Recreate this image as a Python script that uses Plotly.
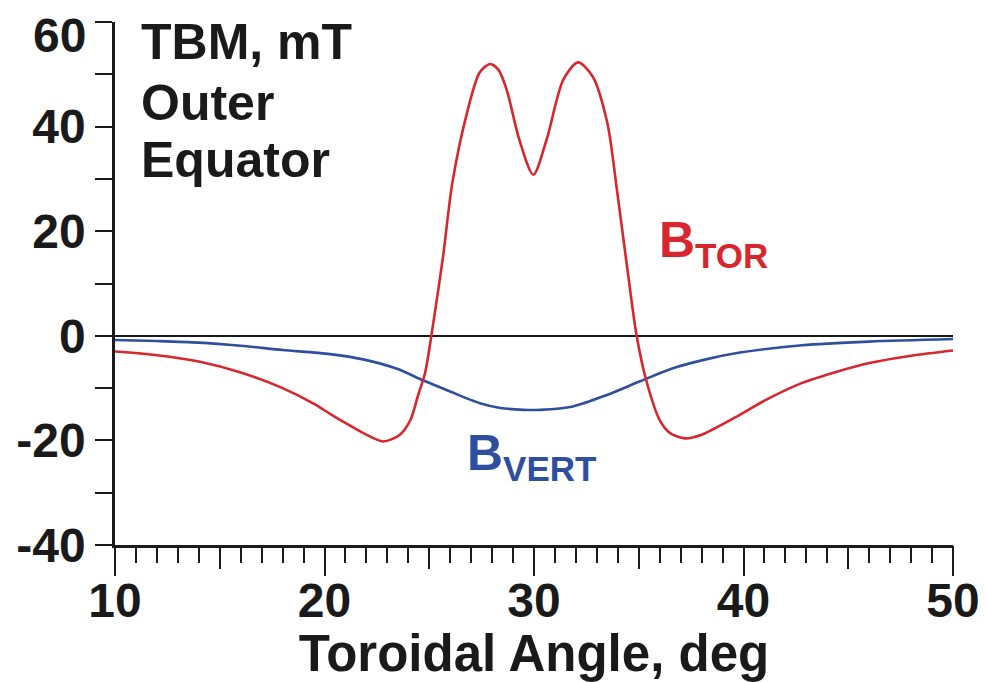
import plotly.graph_objects as go

# ---- data ----
angle_tor = [10, 12, 14, 16, 18, 19.5, 20.3, 21.1, 21.9, 22.8, 23.6, 24.1, 24.45, 24.8,
             25.1, 25.66, 26.1, 26.8, 27.4, 27.9, 28.3, 28.7, 29.3, 29.97, 30.6, 31.4,
             32.1, 32.8, 33.5, 33.96, 34.4, 34.9, 35.35, 36.0, 36.5, 37.2, 38.0, 39.6, 41.0,
             42.8, 44.5, 46, 48, 50]
b_tor = [-3.0, -3.7, -4.9, -7.0, -10.0, -13.0, -15.0, -16.9, -18.7, -20.2, -18.9, -16.1, -11.6, -7.1,
         0.0, 15.2, 29.2, 42.6, 50.3, 52.0, 50.9, 47.0, 37.5, 30.8, 37.5, 49.0,
         52.3, 49.6, 40.7, 27.9, 14.5, 0.0, -8.4, -16.1, -18.6, -19.6, -18.9, -15.6, -12.4,
         -9.0, -6.8, -5.2, -3.8, -2.8]

angle_vert = [10, 12, 14, 16, 18, 20.26, 21.84, 23.46, 24.7, 25.85, 27.42, 28.4, 29.5, 30.3,
              31.86, 33.48, 35.06, 36.63, 38.26, 39.83, 42.8, 46, 50]
b_vert = [-0.8, -1.0, -1.3, -1.9, -2.7, -3.5, -4.5, -6.3, -8.5, -10.4, -12.9, -13.8, -14.15, -14.15,
          -13.5, -11.3, -8.7, -6.2, -4.45, -3.2, -1.8, -1.1, -0.6]

y_tickvals = [-40, -20, 0, 20, 40, 60]
y_ticktext = ["-40", "-20", "0", "20", "40", "60"]
x_tickvals = [10, 20, 30, 40, 50]
x_ticktext = ["10", "20", "30", "40", "50"]

RED = "#d7262e"
BLUE = "#2d4f9e"
INK = "#1a1a1a"
FONT = "Liberation Sans, Arial, Helvetica, sans-serif"

fig = go.Figure()
fig.add_trace(go.Scatter(x=angle_vert, y=b_vert, mode="lines",
                         line=dict(color=BLUE, width=2.6, shape="spline", smoothing=0.8),
                         hoverinfo="skip", showlegend=False))
fig.add_trace(go.Scatter(x=angle_tor, y=b_tor, mode="lines",
                         line=dict(color=RED, width=2.6, shape="spline", smoothing=0.8),
                         hoverinfo="skip", showlegend=False))
# invisible trace to activate the secondary tick axis (5-degree ticks)
fig.add_trace(go.Scatter(x=angle_tor, y=b_tor, xaxis="x2", mode="lines",
                         line=dict(width=0), opacity=0, hoverinfo="skip", showlegend=False))

fig.update_layout(
    width=979, height=674,
    margin=dict(l=107, r=34, t=14, b=137),
    paper_bgcolor="white", plot_bgcolor="white",
    font=dict(family=FONT, color=INK),
    xaxis=dict(
        range=[10, 50], tickvals=x_tickvals, ticktext=x_ticktext, automargin=False,
        ticks="outside", ticklen=28, tickwidth=2, tickcolor=INK, ticklabelstandoff=-16,
        ticklabeloverflow="allow",
        minor=dict(dtick=1, ticks="outside", ticklen=15, tickwidth=2, tickcolor=INK, showgrid=False),
        showline=True, linecolor=INK, linewidth=2.5,
        showgrid=False, zeroline=False,
        tickfont=dict(family=FONT, size=48, weight="bold", color=INK),
        title=dict(text="Toroidal Angle, deg", standoff=27,
                   font=dict(family=FONT, size=51, weight="bold", color=INK)),
    ),
    xaxis2=dict(
        range=[10, 50], overlaying="x", anchor="y", side="bottom",
        dtick=5, tick0=0, ticks="outside", ticklen=23, tickwidth=2, tickcolor=INK,
        showticklabels=False, showgrid=False, zeroline=False, showline=False,
    ),
    yaxis=dict(
        range=[-40, 60.02], tickvals=y_tickvals[:-1], ticktext=y_ticktext[:-1], automargin=False,
        ticks="outside", ticklen=17, tickwidth=2, tickcolor=INK,
        ticklabeloverflow="allow",
        minor=dict(dtick=10, tick0=0, ticks="outside", ticklen=17, tickwidth=2, tickcolor=INK, showgrid=False),
        showline=True, linecolor=INK, linewidth=2.5,
        showgrid=False, zeroline=True, zerolinecolor=INK, zerolinewidth=1.5,
        tickfont=dict(family=FONT, size=48, weight="bold", color=INK),
    ),
    annotations=[
        # top tick label, nudged down as in the reference so it is not clipped
        dict(text=y_ticktext[-1], xref="paper", yref="paper", x=-0.032, y=0.975,
             xanchor="right", yanchor="middle", showarrow=False,
             font=dict(family=FONT, size=48, weight="bold", color=INK)),
        dict(text="TBM, mT", xref="paper", yref="paper", x=0.029, y=0.962,
             xanchor="left", yanchor="middle", showarrow=False,
             font=dict(family=FONT, size=50, weight="bold", color=INK)),
        dict(text="Outer", xref="paper", yref="paper", x=0.029, y=0.845,
             xanchor="left", yanchor="middle", showarrow=False,
             font=dict(family=FONT, size=50, weight="bold", color=INK)),
        dict(text="Equator", xref="paper", yref="paper", x=0.029, y=0.736,
             xanchor="left", yanchor="middle", showarrow=False,
             font=dict(family=FONT, size=50, weight="bold", color=INK)),
        dict(text="B<sub>TOR</sub>", xref="x", yref="y", x=38.55, y=17.7,
             xanchor="center", yanchor="middle", showarrow=False,
             font=dict(family=FONT, size=50, weight="bold", color=RED)),
        dict(text="B<sub>VERT</sub>", xref="x", yref="y", x=29.9, y=-23.1,
             xanchor="center", yanchor="middle", showarrow=False,
             font=dict(family=FONT, size=50, weight="bold", color=BLUE)),
    ],
)

fig.write_html("out.html")
